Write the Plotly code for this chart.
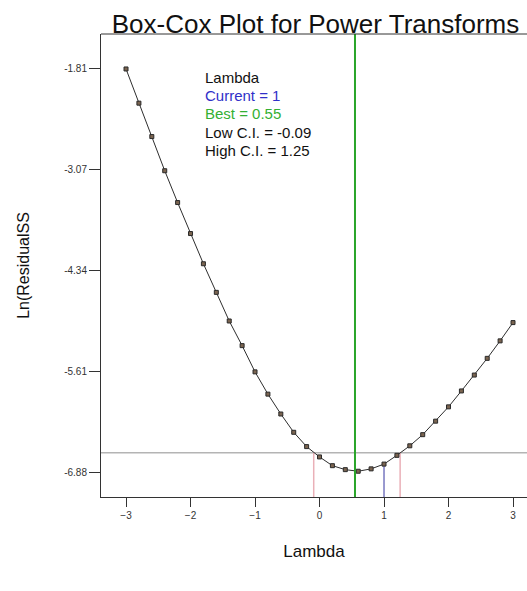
import plotly.graph_objects as go

# ---- data ----
lambdas = [-3.0, -2.8, -2.6, -2.4, -2.2, -2.0, -1.8, -1.6, -1.4, -1.2, -1.0,
           -0.8, -0.6, -0.4, -0.2, 0.0, 0.2, 0.4, 0.6, 0.8, 1.0,
           1.2, 1.4, 1.6, 1.8, 2.0, 2.2, 2.4, 2.6, 2.8, 3.0]
ln_rss = [-1.81, -2.24, -2.66, -3.09, -3.49, -3.88, -4.26, -4.62, -4.98, -5.29, -5.62,
          -5.90, -6.15, -6.38, -6.56, -6.69, -6.80, -6.85, -6.87, -6.84, -6.78,
          -6.67, -6.55, -6.41, -6.24, -6.06, -5.86, -5.66, -5.45, -5.23, -5.00]
x_ticks = [-3, -2, -1, 0, 1, 2, 3]
y_tickvals = [-1.81, -3.0775, -4.345, -5.6125, -6.88]
y_ticktext = ["-1.81", "-3.07", "-4.34", "-5.61", "-6.88"]

current_lambda = 1
best_lambda = 0.55
low_ci = -0.09
high_ci = 1.25
ci_level = -6.636

W, H = 527, 591
L, R, T, B = 101, 0, 34, 94
plot_h = H - T - B
plot_w = W - L - R


def py(pix):
    return (H - B - pix) / plot_h


def px(pix):
    return (pix - L) / plot_w


fig = go.Figure()
fig.add_trace(go.Scatter(
    x=lambdas, y=ln_rss, mode="lines+markers",
    line=dict(color="#2e2e2e", width=1),
    marker=dict(symbol="square", size=4, color="#7a6450",
                line=dict(color="#2a2a2a", width=1)),
    showlegend=False, hoverinfo="x+y"))

current_y = ln_rss[lambdas.index(float(current_lambda))]
y_bottom = -7.3

shapes = [
    dict(type="line", xref="paper", yref="y", x0=0, x1=1, y0=ci_level, y1=ci_level,
         line=dict(color="#b4b4b4", width=1.5), layer="below"),
    dict(type="line", xref="x", yref="y", x0=low_ci, x1=low_ci, y0=y_bottom, y1=ci_level,
         line=dict(color="#eab0b8", width=1.5), layer="below"),
    dict(type="line", xref="x", yref="y", x0=high_ci, x1=high_ci, y0=y_bottom, y1=ci_level,
         line=dict(color="#eab0b8", width=1.5), layer="below"),
    dict(type="line", xref="x", yref="y", x0=current_lambda, x1=current_lambda,
         y0=y_bottom, y1=current_y, line=dict(color="#7878c0", width=1.5), layer="below"),
    dict(type="line", xref="x", yref="paper", x0=best_lambda, x1=best_lambda, y0=0, y1=1,
         line=dict(color="#2aa52a", width=2)),
    dict(type="line", xref="paper", yref="paper", x0=0, x1=1, y0=1, y1=1,
         line=dict(color="#333333", width=1)),
]

lines_txt = [("Lambda", "#111111"),
             ("Current = %g" % current_lambda, "#3030c8"),
             ("Best = %g" % best_lambda, "#33b033"),
             ("Low C.I. = %g" % low_ci, "#111111"),
             ("High C.I. = %g" % high_ci, "#111111")]
ann = []
for i, (t, c) in enumerate(lines_txt):
    ann.append(dict(text=t, xref="paper", yref="paper",
                    x=px(203), y=py(77 + i * 18.4),
                    xanchor="left", yanchor="middle", showarrow=False,
                    font=dict(family="Arial, Liberation Sans", size=15, color=c)))

fig.update_layout(
    width=W, height=H,
    margin=dict(l=L, r=R, t=T, b=B, pad=0),
    paper_bgcolor="white", plot_bgcolor="white",
    font=dict(family="Arial, Liberation Sans", color="#222222"),
    title=dict(text="Box-Cox Plot for Power Transforms", x=((108 + 523) / 2) / W,
               xanchor="center", y=1 - 23.5 / H, yanchor="middle",
               font=dict(size=26, color="#111111")),
    shapes=shapes, annotations=ann,
    xaxis=dict(range=[-3.388, 3.217], tickvals=x_ticks, ticks="outside", ticklen=9,
               tickcolor="#333333", tickwidth=1, showline=True, linecolor="#333333",
               linewidth=1, showgrid=False, zeroline=False,
               tickfont=dict(size=10, color="#333333"),
               title=dict(text="Lambda", font=dict(size=17, color="#111111"), standoff=25)),
    yaxis=dict(range=[-7.194, -1.37], tickvals=y_tickvals, ticktext=y_ticktext,
               ticks="outside", ticklen=11, tickcolor="#333333", tickwidth=1,
               showline=True, linecolor="#333333", linewidth=1, showgrid=False,
               zeroline=False, tickfont=dict(size=10, color="#333333"),
               title=dict(text="Ln(ResidualSS", font=dict(size=16, color="#111111"),
                          standoff=30)),
)

fig.write_html(
    "out.html",
    config={"displayModeBar": False},
    post_script="document.body.style.margin='0px';document.body.style.overflow='hidden';",
)
